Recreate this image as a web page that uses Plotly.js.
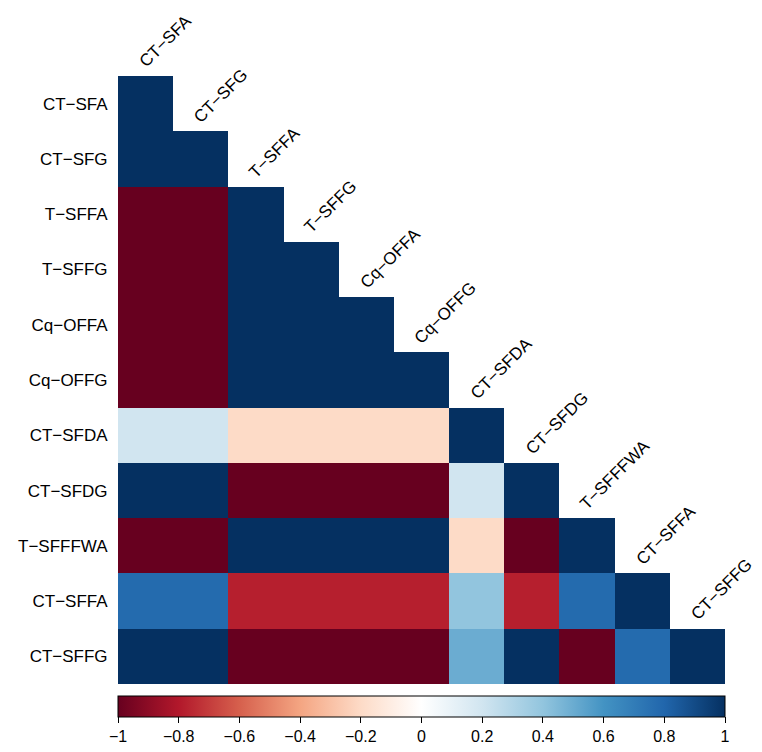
<!DOCTYPE html>
<html>
<head>
<meta charset="utf-8">
<script src="https://cdn.plot.ly/plotly-3.0.1.min.js"></script>
<style>html,body{margin:0;padding:0;background:#fff}#chart{width:762px;height:752px}</style>
</head>
<body>
<div id="chart"></div>
<script>
const variables = ["CT−SFA","CT−SFG","T−SFFA","T−SFFG","Cq−OFFA","Cq−OFFG","CT−SFDA","CT−SFDG","T−SFFFWA","CT−SFFA","CT−SFFG"];
// lower-triangle correlation rows (row i has i+1 values)
const row_CT_SFA   = [1];
const row_CT_SFG   = [1, 1];
const row_T_SFFA   = [-1, -1, 1];
const row_T_SFFG   = [-1, -1, 1, 1];
const row_Cq_OFFA  = [-1, -1, 1, 1, 1];
const row_Cq_OFFG  = [-1, -1, 1, 1, 1, 1];
const row_CT_SFDA  = [0.2, 0.2, -0.2, -0.2, -0.2, -0.2, 1];
const row_CT_SFDG  = [1, 1, -1, -1, -1, -1, 0.2, 1];
const row_T_SFFFWA = [-1, -1, 1, 1, 1, 1, -0.2, -1, 1];
const row_CT_SFFA  = [0.78, 0.78, -0.78, -0.78, -0.78, -0.78, 0.4, -0.78, 0.78, 1];
const row_CT_SFFG  = [1, 1, -1, -1, -1, -1, 0.5, 1, -1, 0.78, 1];
const corrRows = [row_CT_SFA,row_CT_SFG,row_T_SFFA,row_T_SFFG,row_Cq_OFFA,row_Cq_OFFG,row_CT_SFDA,row_CT_SFDG,row_T_SFFFWA,row_CT_SFFA,row_CT_SFFG];
const colorTicks = [-1,-0.8,-0.6,-0.4,-0.2,0,0.2,0.4,0.6,0.8,1];
const colorTickText = ["−1","−0.8","−0.6","−0.4","−0.2","0","0.2","0.4","0.6","0.8","1"];
const rdbu = ["#67001F","#B2182B","#D6604D","#F4A582","#FDDBC7","#FFFFFF","#D1E5F0","#92C5DE","#4393C3","#2166AC","#053061"];

const n = variables.length;
const z = corrRows.map(r => { const a = r.slice(); while (a.length < n) a.push(null); return a; });
const colorscale = rdbu.map((c,i) => [i/(rdbu.length-1), c]);
const FONT = 'Liberation Sans, Arial, sans-serif';

const trace = {
  type: 'heatmap',
  x: variables, y: variables, z: z,
  zmin: -1, zmax: 1,
  colorscale: colorscale,
  hoverinfo: 'skip',
  colorbar: {
    orientation: 'h',
    x: 0.5, xanchor: 'center',
    y: -0.02, yanchor: 'top',
    len: 1, lenmode: 'fraction',
    thickness: 21,
    xpad: 0, ypad: 0,
    outlinecolor: '#000', outlinewidth: 1,
    tickvals: colorTicks, ticktext: colorTickText,
    ticks: 'outside', ticklen: 6, tickcolor: '#000', tickwidth: 1,
    tickfont: {family: FONT, size: 16, color: '#000'}
  }
};

const annotations = variables.map((v, j) => ({
  x: j, y: j - 0.5, xref: 'x', yref: 'y',
  text: v, showarrow: false, textangle: -45,
  xanchor: 'left', yanchor: 'bottom',
  xshift: -13, yshift: 2,
  font: {family: FONT, size: 17, color: '#000'}
}));

const layout = {
  width: 762, height: 752,
  margin: {l: 118, r: 37, t: 76, b: 68, autoexpand: false},
  paper_bgcolor: '#fff', plot_bgcolor: '#fff',
  xaxis: {type: 'category', range: [-0.5, n - 0.5], autorange: false, showticklabels: false, ticks: '', showgrid: false, zeroline: false, showline: false, automargin: false},
  yaxis: {type: 'category', range: [n - 0.5, -0.5], autorange: false, showgrid: false, zeroline: false, showline: false, automargin: false,
          ticks: 'outside', ticklen: 6, tickcolor: 'rgba(0,0,0,0)',
          tickfont: {family: FONT, size: 17, color: '#000'}},
  annotations: annotations,
  showlegend: false
};

Plotly.newPlot('chart', [trace], layout, {displayModeBar: false, staticPlot: true});
</script>
</body>
</html>
